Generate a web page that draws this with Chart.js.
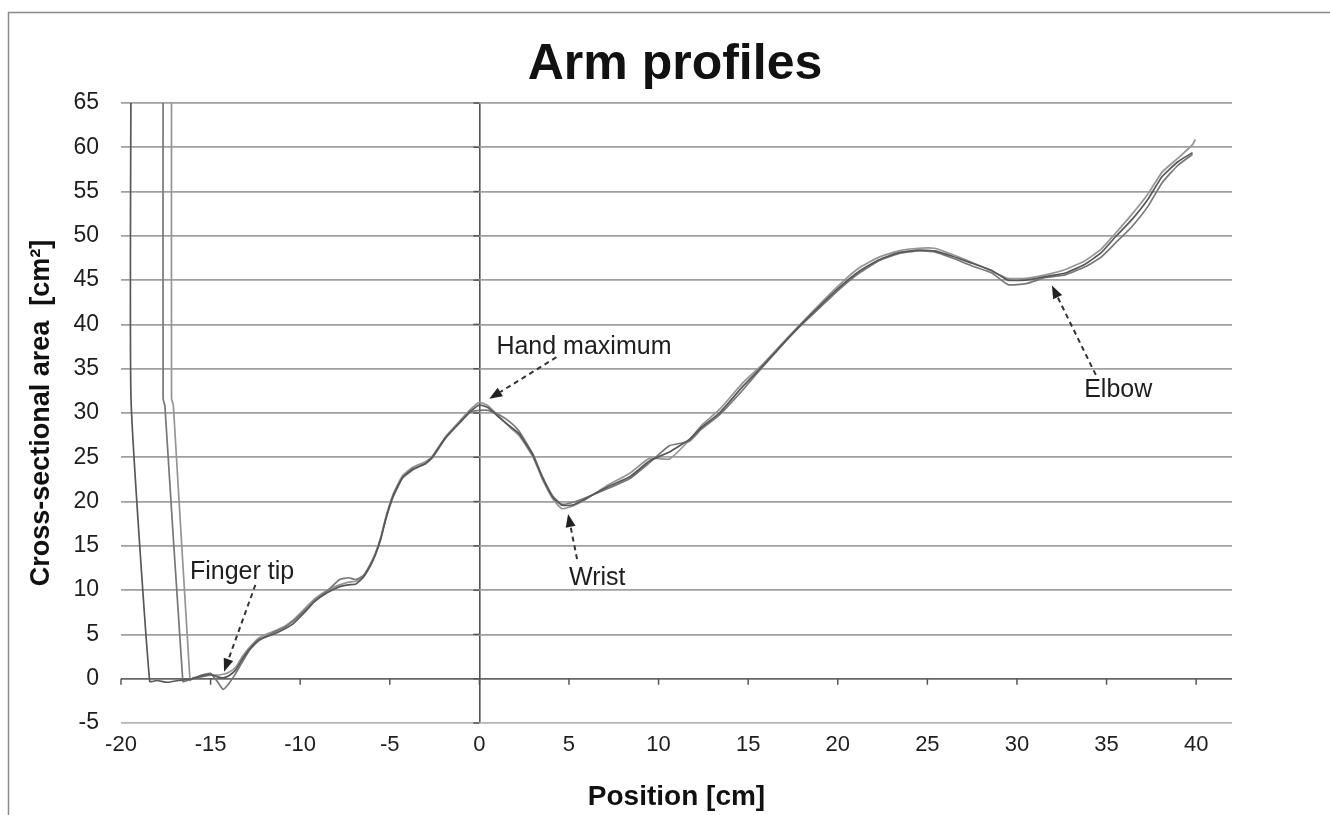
<!DOCTYPE html>
<html>
<head>
<meta charset="utf-8">
<script src="https://cdn.jsdelivr.net/npm/chart.js@4.4.1/dist/chart.umd.min.js"></script>
<style>
html,body{margin:0;padding:0;background:#fff;}
#wrap{width:1330px;height:815px;position:relative;}
</style>
</head>
<body>
<div id="wrap"><canvas id="c" width="1330" height="815"></canvas></div>
<script>
// ---------- data ----------
const chartTitle = 'Arm profiles';
const xAxisTitle = 'Position [cm]';
const yAxisTitle = 'Cross-sectional area  [cm²]';
const xRange = [-20, 42];
const yRange = [-5, 65];
const tickStep = 5;

// lead-in parts (probe entering from above, before the finger tip)
const leadInXA = [-19.44, -19.44, -18.4, -18.0, -17.4, -16.8];
const leadInYA = [70, 31.5, -0.3, -0.2, -0.4, -0.2];
const leadInXB = [-17.65, -17.65, -17.55, -16.55, -16.3];
const leadInYB = [70, 31.6, 30.8, -0.3, -0.2];
const leadInXC = [-17.18, -17.18, -17.08, -16.15];
const leadInYC = [70, 31.6, 30.9, -0.2];

// shared positions of the arm profile [cm]
const positions = [-16, -15.5, -15, -14.6, -14.3, -14, -13.6, -13.2, -12.8, -12.3, -11.8, -11.3, -10.8, -10.4, -9.8, -9.2, -8.5, -7.8, -7.3, -6.9, -6.5, -6.1, -5.8, -5.5, -5.2, -4.8, -4.3, -3.7, -3.0, -2.6, -1.9, -1.1, -0.5, 0, 0.5, 1.1, 1.7, 2.2, 2.6, 3.0, 3.5, 4.1, 4.6, 5.2, 5.9, 7.2, 8.4, 9.5, 10.6, 11.7, 12.4, 13.4, 14.7, 15.8, 17.1, 18.0, 19.0, 20.1, 21.2, 22.3, 23.4, 24.5, 25.4, 26.4, 27.5, 28.6, 29.5, 30.5, 31.6, 32.7, 33.8, 34.7, 35.5, 36.4, 37.3, 38.1, 39.0, 39.8];

// cross-sectional areas [cm²], three scans
const profileA = [0.0, 0.3, 0.5, 0.2, 0.1, 0.3, 1.0, 2.3, 3.4, 4.4, 4.8, 5.2, 5.7, 6.2, 7.4, 8.7, 9.7, 10.4, 10.6, 10.7, 11.4, 12.7, 14.0, 15.8, 18.2, 20.7, 22.7, 23.7, 24.3, 25.1, 27.2, 28.9, 30.2, 30.9, 30.6, 29.5, 28.5, 27.7, 26.5, 25.2, 22.8, 20.5, 19.6, 19.6, 20.3, 21.7, 22.8, 24.6, 25.6, 27.0, 28.4, 30.0, 33.0, 35.3, 38.2, 40.1, 42.1, 44.2, 46.0, 47.3, 48.1, 48.4, 48.3, 47.7, 46.9, 46.1, 45.0, 45.0, 45.4, 45.8, 46.8, 48.1, 49.9, 51.8, 54.1, 56.7, 58.4, 59.4];
const profileB = [0.0, 0.4, 0.6, -0.4, -1.2, -0.6, 0.6, 2.0, 3.3, 4.3, 4.9, 5.4, 5.9, 6.5, 7.6, 8.8, 9.9, 11.2, 11.4, 11.2, 11.6, 12.8, 14.1, 15.9, 18.2, 20.6, 22.6, 23.6, 24.3, 25.0, 27.1, 28.9, 30.1, 30.3, 30.3, 29.8, 29.0, 28.0, 26.7, 25.3, 22.9, 20.6, 19.7, 19.9, 20.4, 21.5, 22.6, 24.4, 26.3, 26.8, 28.2, 29.8, 32.6, 35.2, 38.1, 40.0, 41.9, 44.0, 45.8, 47.2, 48.0, 48.3, 48.2, 47.5, 46.6, 45.8, 44.5, 44.6, 45.3, 45.6, 46.5, 47.6, 49.2, 51.0, 53.3, 56.0, 58.0, 59.2];
const profileC = [0.1, 0.2, 0.4, 0.4, 0.5, 0.7, 1.3, 2.6, 3.6, 4.6, 5.1, 5.5, 6.0, 6.6, 7.8, 9.0, 10.0, 10.6, 10.9, 11.0, 11.5, 12.9, 14.2, 16.0, 18.4, 20.9, 22.9, 23.9, 24.5, 25.2, 27.3, 29.1, 30.4, 31.2, 30.8, 29.6, 28.4, 27.5, 26.3, 25.0, 22.6, 20.3, 19.2, 19.5, 20.2, 21.9, 23.2, 24.9, 24.8, 26.9, 28.6, 30.4, 33.4, 35.5, 38.3, 40.2, 42.3, 44.5, 46.4, 47.6, 48.3, 48.6, 48.6, 47.9, 47.0, 46.0, 45.2, 45.2, 45.6, 46.2, 47.2, 48.5, 50.3, 52.4, 54.7, 57.2, 58.8, 60.3];
const tailXC = [39.95];
const tailYC = [60.9];

// annotations: label, label anchor (x, y), arrow start (x, y), arrow tip (x, y) in data units
const noteLabels = ['Finger tip', 'Hand maximum', 'Wrist', 'Elbow'];
const noteTextX = [-16.15, 0.95, 5.0, 33.75];
const noteTextY = [12.0, 37.4, 11.4, 32.6];
const noteFromX = [-12.5, 4.3, 5.45, 34.4];
const noteFromY = [10.6, 36.3, 13.5, 34.3];
const noteToX = [-14.25, 0.55, 4.95, 31.95];
const noteToY = [0.8, 31.6, 18.6, 44.4];

// ---------- build ----------
function pts(xs, ys) { return xs.map((x, i) => ({x: x, y: ys[i]})); }
const seriesA = pts(leadInXA, leadInYA).concat(pts(positions, profileA));
const seriesB = pts(leadInXB, leadInYB).concat(pts(positions, profileB));
const seriesC = pts(leadInXC, leadInYC).concat(pts(positions, profileC)).concat(pts(tailXC, tailYC));

const FONT = '"Liberation Sans", Arial, Helvetica, sans-serif';

const framePlugin = {
  id: 'frame',
  beforeDraw(chart) {
    const ctx = chart.ctx;
    ctx.save();
    ctx.fillStyle = '#fff';
    ctx.fillRect(0, 0, chart.width, chart.height);
    ctx.strokeStyle = '#8a8a8a';
    ctx.lineWidth = 1.5;
    ctx.strokeRect(8.5, 12.5, chart.width + 20, chart.height + 20);
    ctx.restore();
  }
};

const crossAxesPlugin = {
  id: 'crossAxes',
  beforeDatasetsDraw(chart) {
    const {ctx, scales: {x, y}} = chart;
    const x0 = x.getPixelForValue(0);
    const y0 = y.getPixelForValue(0);
    ctx.save();
    ctx.strokeStyle = '#555';
    ctx.lineWidth = 1.5;
    x.ticks.forEach(t => {
      const px = x.getPixelForValue(t.value);
      ctx.beginPath(); ctx.moveTo(px, y0); ctx.lineTo(px, y0 + 6); ctx.stroke();
    });
    y.ticks.forEach(t => {
      const py = y.getPixelForValue(t.value);
      ctx.beginPath(); ctx.moveTo(x0 - 6, py); ctx.lineTo(x0, py); ctx.stroke();
    });
    ctx.restore();
  }
};

const notesPlugin = {
  id: 'notes',
  afterDatasetsDraw(chart) {
    const {ctx, scales: {x, y}} = chart;
    ctx.save();
    noteLabels.forEach((label, i) => {
      const fx = x.getPixelForValue(noteFromX[i]), fy = y.getPixelForValue(noteFromY[i]);
      const tx = x.getPixelForValue(noteToX[i]), ty = y.getPixelForValue(noteToY[i]);
      const ang = Math.atan2(ty - fy, tx - fx);
      const head = 13, half = 5;
      const bx = tx - head * Math.cos(ang), by = ty - head * Math.sin(ang);
      ctx.strokeStyle = '#333';
      ctx.lineWidth = 2;
      ctx.setLineDash([5, 4]);
      ctx.beginPath(); ctx.moveTo(fx, fy); ctx.lineTo(bx, by); ctx.stroke();
      ctx.setLineDash([]);
      ctx.fillStyle = '#222';
      ctx.beginPath();
      ctx.moveTo(tx, ty);
      ctx.lineTo(bx + half * Math.sin(ang), by - half * Math.cos(ang));
      ctx.lineTo(bx - half * Math.sin(ang), by + half * Math.cos(ang));
      ctx.closePath(); ctx.fill();
      ctx.font = '25px ' + FONT;
      ctx.fillStyle = '#1e1e1e';
      ctx.textAlign = 'left';
      ctx.textBaseline = 'middle';
      ctx.fillText(label, x.getPixelForValue(noteTextX[i]), y.getPixelForValue(noteTextY[i]));
    });
    ctx.restore();
  }
};

function lineSet(label, data, color) {
  return {label, data, showLine: true, borderColor: color, backgroundColor: color,
    borderWidth: 1.7, pointRadius: 0, pointHoverRadius: 0, tension: 0.15, fill: false};
}

new Chart(document.getElementById('c'), {
  type: 'scatter',
  data: {
    datasets: [
      lineSet('Scan 1', seriesA, '#585858'),
      lineSet('Scan 2', seriesB, '#777777'),
      lineSet('Scan 3', seriesC, '#959595')
    ]
  },
  options: {
    responsive: false,
    animation: false,
    events: [],
    layout: {padding: {left: 20, right: 0, top: 0, bottom: 0}},
    plugins: {
      legend: {display: false},
      tooltip: {enabled: false},
      title: {
        display: true, text: chartTitle, color: '#111',
        font: {family: FONT, size: 50, weight: 'bold', lineHeight: 1.2},
        padding: {top: 35, bottom: 8}
      }
    },
    scales: {
      x: {
        type: 'linear', min: xRange[0], max: xRange[1],
        border: {display: false},
        grid: {
          drawTicks: false, lineWidth: 1.6,
          color: c => (c.tick && c.tick.value === 0) ? '#555' : 'rgba(0,0,0,0)'
        },
        ticks: {stepSize: tickStep, includeBounds: false, padding: 9, color: '#1e1e1e',
          font: {family: FONT, size: 22}},
        title: {display: true, text: xAxisTitle, color: '#111',
          font: {family: FONT, size: 28, weight: 'bold'}, padding: {top: 0, bottom: 1}},
        afterFit: s => { s.height = 92; }
      },
      y: {
        type: 'linear', min: yRange[0], max: yRange[1],
        border: {display: false},
        grid: {
          drawTicks: false, lineWidth: 1.7,
          color: c => (c.tick && c.tick.value === 0) ? '#666' : (c.tick && c.tick.value === yRange[0] ? '#b4b4b4' : '#a0a0a0')
        },
        ticks: {stepSize: tickStep, padding: 22, color: '#1e1e1e',
          font: {family: FONT, size: 23}},
        title: {display: true, text: yAxisTitle, color: '#111',
          font: {family: FONT, size: 27, weight: 'bold'}, padding: {top: 5, bottom: 0}},
        afterFit: s => { s.width = 101; }
      },
      yRight: {
        type: 'linear', position: 'right', display: true,
        grid: {display: false}, border: {display: false},
        ticks: {display: false},
        afterFit: s => { s.width = 98; }
      }
    }
  },
  plugins: [framePlugin, crossAxesPlugin, notesPlugin]
});
</script>
</body>
</html>
